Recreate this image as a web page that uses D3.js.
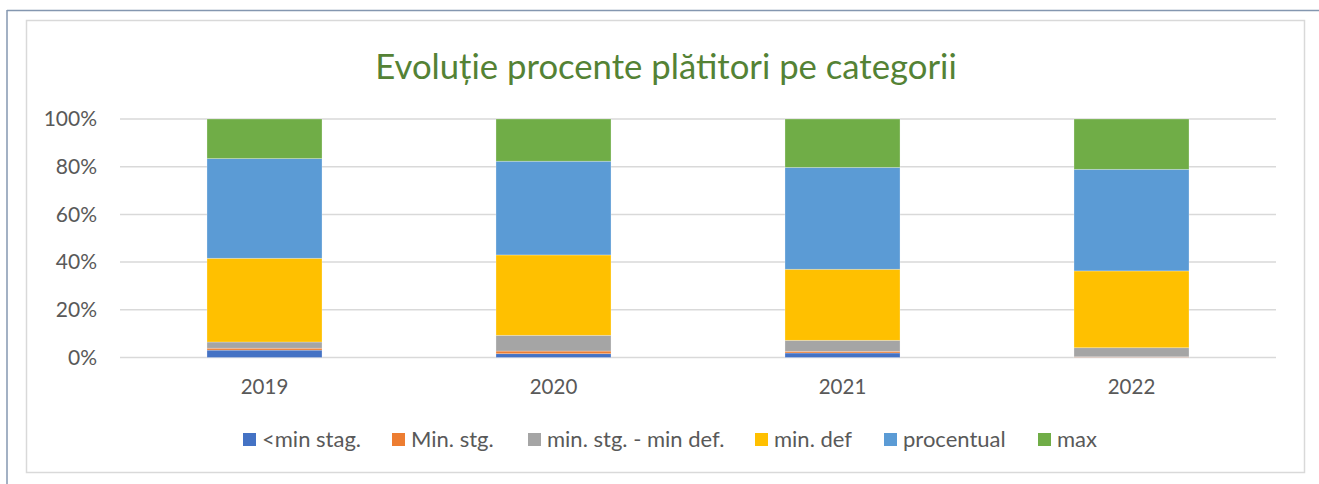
<!DOCTYPE html>
<html><head><meta charset="utf-8">
<script src="https://cdn.jsdelivr.net/npm/d3@7"></script>
<style>html,body{margin:0;padding:0;background:#fff;}svg{display:block;}</style>
</head><body>
<svg id="chart" width="1319" height="484"></svg>
<script>
const categories = ["2019", "2020", "2021", "2022"];
const seriesNames = ["<min stag.", "Min. stg.", "min. stg. - min def.", "min. def", "procentual", "max"];
const minStag     = [3.1, 1.6, 1.9, 0.1];
const minStg      = [0.8, 1.1, 0.7, 0.2];
const minStgDef   = [2.6, 6.6, 4.6, 3.8];
const minDef      = [35.1, 33.7, 29.8, 32.2];
const procentual  = [41.8, 39.3, 42.7, 42.6];
const maxVals     = [16.6, 17.7, 20.3, 21.1];
const yTicks = [0, 20, 40, 60, 80, 100];
const colors = ["#4472C4", "#ED7D31", "#A5A5A5", "#FFC000", "#5B9BD5", "#70AD47"];

const seriesValues = [minStag, minStg, minStgDef, minDef, procentual, maxVals];
const rows = categories.map((c, i) => {
  const r = {cat: c};
  seriesNames.forEach((s, j) => r[s] = seriesValues[j][i]);
  return r;
});

const svg = d3.select("#chart");
const font = "Lato, 'Open Sans', sans-serif";

// outer frame
svg.append("line").attr("x1", 7).attr("x2", 1319).attr("y1", 10.5).attr("y2", 10.5)
  .attr("stroke", "#8497B0").attr("stroke-width", 1.5);
svg.append("line").attr("x1", 7).attr("x2", 7).attr("y1", 10).attr("y2", 484)
  .attr("stroke", "#8497B0").attr("stroke-width", 1.5);
// inner chart area border
svg.append("rect").attr("x", 26.5).attr("y", 20.5).attr("width", 1278).attr("height", 452)
  .attr("fill", "#fff").attr("stroke", "#D9D9D9").attr("stroke-width", 1.5);

const x = d3.scaleBand().domain(categories).range([120, 1276])
  .paddingInner(0.602).paddingOuter(0.301);
const y = d3.scaleLinear().domain([0, 100]).range([357.5, 119]);

// gridlines
svg.append("g").selectAll("line").data(yTicks).join("line")
  .attr("x1", 120).attr("x2", 1276)
  .attr("y1", d => y(d)).attr("y2", d => y(d))
  .attr("stroke", "#D9D9D9").attr("stroke-width", 1.5);

// y axis labels
const yAxis = d3.axisLeft(y).tickValues(yTicks).tickFormat(d => d + "%").tickSize(0).tickPadding(0);
const yg = svg.append("g").attr("transform", "translate(97,0)").call(yAxis);
yg.select(".domain").remove();
yg.selectAll("text").attr("font-family", font).attr("font-size", 21).attr("fill", "#595959");

// x axis labels
const xAxis = d3.axisBottom(x).tickSize(0).tickPadding(0);
const xg = svg.append("g").attr("transform", "translate(0,379)").call(xAxis);
xg.select(".domain").remove();
xg.selectAll("text").attr("font-family", font).attr("font-size", 20.5).attr("fill", "#595959");

// stacked bars
const stack = d3.stack().keys(seriesNames)(rows);
svg.append("g").selectAll("g").data(stack).join("g")
  .attr("fill", (d, i) => colors[i])
  .selectAll("rect").data(d => d).join("rect")
  .attr("x", d => x(d.data.cat))
  .attr("width", x.bandwidth())
  .attr("y", d => y(d[1]))
  .attr("height", d => y(d[0]) - y(d[1]))
  .attr("stroke", "#fff").attr("stroke-opacity", 0.35).attr("stroke-width", 0.75);

// title
svg.append("text").attr("x", 666).attr("y", 79).attr("text-anchor", "middle")
  .attr("font-family", font).attr("font-size", 34.7).attr("fill", "#548235")
  .text("Evoluție procente plătitori pe categorii");

// legend
const legendX = [243, 392, 528, 755, 884, 1038];
const lg = svg.append("g").selectAll("g").data(seriesNames).join("g")
  .attr("transform", (d, i) => `translate(${legendX[i]},433)`);
lg.append("rect").attr("width", 13).attr("height", 13).attr("fill", (d, i) => colors[i]);
lg.append("text").attr("x", 19).attr("y", 14).attr("font-family", font).attr("font-size", 22)
  .attr("fill", "#595959").text(d => d);
</script>
</body></html>
